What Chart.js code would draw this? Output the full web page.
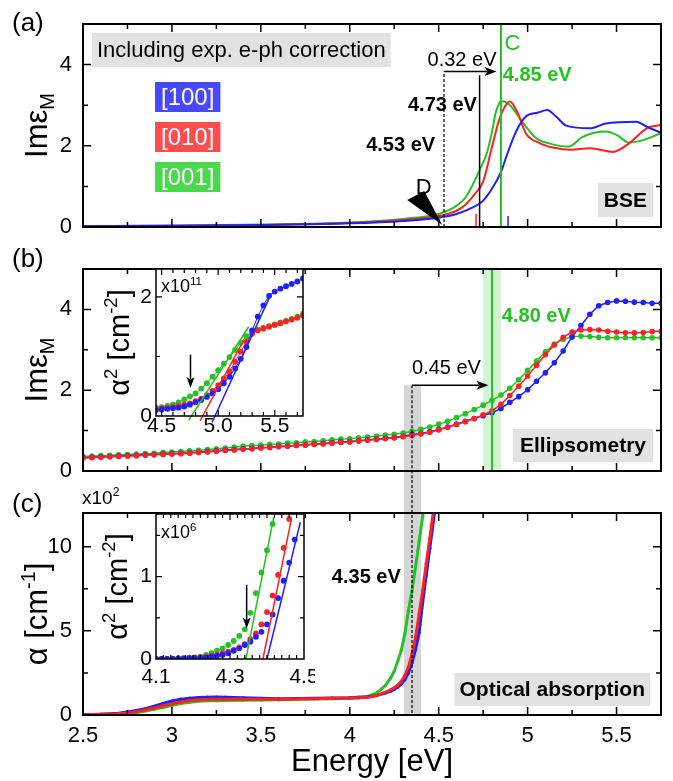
<!DOCTYPE html>
<html>
<head>
<meta charset="utf-8">
<title>Im eps and absorption edge</title>
<script src="https://cdn.jsdelivr.net/npm/chart.js@4.4.1/dist/chart.umd.min.js"></script>
<style>
  body { margin: 0; background: #fff; }
  #fig { position: relative; width: 673px; height: 781px; }
  #fig canvas { position: absolute; }
</style>
</head>
<body>
<div id="fig">
  <canvas id="panelA" width="673" height="240" style="left:0;top:0"></canvas>
  <canvas id="panelB" width="673" height="240" style="left:0;top:240px"></canvas>
  <canvas id="panelC" width="673" height="301" style="left:0;top:480px"></canvas>
  <canvas id="insetB" width="215" height="180" style="left:100px;top:262px"></canvas>
  <canvas id="insetC" width="215" height="185" style="left:100px;top:505px"></canvas>
</div>
<script>
const FONT = "'Liberation Sans', Arial, sans-serif";
const BLUE = '#2020ff', RED = '#ff2020', GREEN = '#22c322';

// (a) BSE Im eps_M
const bseBlueE = [2.5, 3.0, 3.5, 4.0, 4.3, 4.5, 4.6, 4.7, 4.75, 4.8, 4.85, 4.88, 4.935, 4.99, 5.06, 5.11, 5.16, 5.22, 5.35, 5.44, 5.61, 5.67, 5.75];
const bseBlue  = [0.02, 0.03, 0.05, 0.09, 0.15, 0.23, 0.32, 0.5, 0.65, 0.95, 1.35, 1.73, 2.35, 2.72, 2.82, 2.88, 2.72, 2.49, 2.43, 2.55, 2.59, 2.47, 2.32];
const bseRedE  = [2.5, 3.0, 3.5, 4.0, 4.3, 4.5, 4.6, 4.65, 4.7, 4.75, 4.8, 4.84, 4.87, 4.9, 4.945, 4.99, 5.07, 5.15, 5.24, 5.35, 5.48, 5.57, 5.67, 5.75];
const bseRed   = [0.02, 0.03, 0.05, 0.1, 0.17, 0.27, 0.4, 0.55, 0.8, 1.12, 1.98, 2.64, 2.95, 3.09, 2.8, 2.31, 2.06, 1.95, 1.9, 1.94, 1.85, 2.06, 2.43, 2.51];
const bseGreenE = [2.5, 3.0, 3.5, 4.0, 4.3, 4.5, 4.6, 4.65, 4.69, 4.73, 4.77, 4.8, 4.82, 4.85, 4.88, 4.91, 4.97, 5.05, 5.12, 5.23, 5.31, 5.44, 5.5, 5.57, 5.65, 5.75];
const bseGreen  = [0.02, 0.03, 0.06, 0.11, 0.2, 0.32, 0.52, 0.72, 1.03, 1.4, 1.81, 2.35, 2.8, 3.1, 3.07, 2.96, 2.59, 2.18, 2.06, 1.98, 2.22, 2.35, 2.27, 2.08, 2.14, 2.31];
const bseMarks = [4.53, 4.73, 4.85];   // onset D, BSE onset, exciton C
const bseBars = [4.71, 4.89];          // red / blue exciton bars
const legendText = ['[100]', '[010]', '[001]'];
const legendFill = ['#4848ff', '#ff4c4c', '#4cd84c'];

// (b) ellipsometry Im eps_M
const ellE = [2.50, 2.55, 2.60, 2.65, 2.70, 2.75, 2.80, 2.85, 2.90, 2.95,
  3.00, 3.05, 3.10, 3.15, 3.20, 3.25, 3.30, 3.35, 3.40, 3.45,
  3.50, 3.55, 3.60, 3.65, 3.70, 3.75, 3.80, 3.85, 3.90, 3.95,
  4.00, 4.05, 4.10, 4.15, 4.20, 4.25, 4.30, 4.35, 4.40, 4.45,
  4.50, 4.55, 4.60, 4.65, 4.70, 4.75, 4.80, 4.85, 4.90, 4.95,
  5.00, 5.05, 5.10, 5.15, 5.20, 5.25, 5.30, 5.35, 5.40, 5.45,
  5.50, 5.55, 5.60, 5.65, 5.70, 5.75];
const ellRed = [0.32, 0.33, 0.34, 0.35, 0.36, 0.37, 0.38, 0.39, 0.40, 0.41,
  0.42, 0.43, 0.44, 0.46, 0.47, 0.49, 0.51, 0.52, 0.54, 0.55,
  0.57, 0.58, 0.60, 0.61, 0.63, 0.64, 0.66, 0.67, 0.69, 0.71,
  0.72, 0.74, 0.76, 0.78, 0.80, 0.82, 0.85, 0.88, 0.92, 0.96,
  1.02, 1.08, 1.15, 1.22, 1.30, 1.39, 1.49, 1.65, 1.87, 2.10,
  2.35, 2.62, 2.88, 3.12, 3.31, 3.44, 3.49, 3.50, 3.49, 3.46,
  3.44, 3.42, 3.42, 3.43, 3.45, 3.46];
const ellBlue = [0.33, 0.34, 0.35, 0.36, 0.37, 0.38, 0.39, 0.40, 0.41, 0.42,
  0.43, 0.44, 0.45, 0.47, 0.48, 0.50, 0.52, 0.53, 0.55, 0.56,
  0.58, 0.59, 0.61, 0.62, 0.64, 0.65, 0.67, 0.68, 0.70, 0.72,
  0.73, 0.75, 0.77, 0.79, 0.81, 0.83, 0.86, 0.90, 0.93, 0.97,
  1.03, 1.09, 1.16, 1.23, 1.30, 1.37, 1.44, 1.55, 1.70, 1.84,
  2.01, 2.22, 2.43, 2.68, 2.97, 3.32, 3.60, 3.88, 4.09, 4.17,
  4.21, 4.20, 4.18, 4.17, 4.15, 4.15];
const ellGreen = [0.36, 0.37, 0.38, 0.39, 0.40, 0.41, 0.42, 0.43, 0.44, 0.46,
  0.47, 0.48, 0.50, 0.51, 0.53, 0.55, 0.57, 0.59, 0.61, 0.63,
  0.64, 0.66, 0.67, 0.69, 0.70, 0.72, 0.73, 0.75, 0.77, 0.79,
  0.80, 0.82, 0.84, 0.86, 0.89, 0.91, 0.94, 0.98, 1.03, 1.09,
  1.16, 1.23, 1.32, 1.42, 1.52, 1.63, 1.75, 1.88, 2.05, 2.26,
  2.49, 2.72, 2.95, 3.14, 3.26, 3.32, 3.34, 3.33, 3.31, 3.30,
  3.30, 3.30, 3.30, 3.30, 3.30, 3.30];
const ellMarks = [4.35, 4.80];
// (b) inset: alpha^2 (x1e11 cm^-2)
const ellInsE = [4.45, 4.50, 4.55, 4.60, 4.65, 4.70, 4.75, 4.80, 4.85, 4.90, 4.95, 5.00, 5.05, 5.10,
  5.15, 5.20, 5.25, 5.30, 5.35, 5.40, 5.45, 5.50, 5.55, 5.60, 5.65, 5.70, 5.75];
const ellInsGreen = [0.14, 0.15, 0.17, 0.19, 0.23, 0.28, 0.33, 0.38, 0.46, 0.55, 0.66, 0.77, 0.88, 0.99,
  1.11, 1.23, 1.34, 1.42, 1.45, 1.48, 1.51, 1.54, 1.57, 1.60, 1.63, 1.67, 1.72];
const ellInsRed = [0.12, 0.13, 0.14, 0.15, 0.17, 0.19, 0.21, 0.25, 0.29, 0.35, 0.42, 0.52, 0.63, 0.75,
  0.91, 1.08, 1.25, 1.38, 1.44, 1.47, 1.50, 1.53, 1.56, 1.59, 1.62, 1.65, 1.69];
const ellInsBlue = [0.10, 0.11, 0.12, 0.13, 0.14, 0.16, 0.19, 0.23, 0.27, 0.32, 0.38, 0.45, 0.55, 0.66,
  0.80, 0.96, 1.16, 1.44, 1.67, 1.86, 2.02, 2.09, 2.14, 2.18, 2.22, 2.26, 2.31];
const ellFitGreen = [[4.74, -0.07], [5.27, 1.50]];
const ellFitRed = [[4.84, -0.08], [5.225, 1.27]];
const ellFitBlue = [[4.945, -0.11], [5.47, 2.06]];

// (c) optical absorption alpha (x1e2 cm^-1)
const absE = [2.50, 2.60, 2.70, 2.75, 2.80, 2.85, 2.90, 2.95, 3.00, 3.05,
  3.10, 3.15, 3.20, 3.25, 3.30, 3.40, 3.50, 3.60, 3.70, 3.80,
  3.90, 4.00, 4.05, 4.10, 4.15, 4.20, 4.23, 4.25, 4.27, 4.29,
  4.31, 4.33, 4.35, 4.37, 4.39, 4.41, 4.43, 4.45, 4.47, 4.49];
const absBlue = [0.03, 0.05, 0.10, 0.18, 0.27, 0.37, 0.52, 0.69, 0.83, 0.94,
  1.00, 1.04, 1.06, 1.07, 1.06, 1.02, 0.99, 0.97, 0.98, 0.99,
  1.01, 1.03, 1.06, 1.09, 1.15, 1.30, 1.42, 1.52, 1.66, 1.85,
  2.10, 2.50, 3.10, 3.90, 4.90, 6.70, 8.30, 9.90, 11.5, 13.1];
const absRed = [0.02, 0.04, 0.07, 0.12, 0.20, 0.30, 0.42, 0.55, 0.66, 0.77,
  0.85, 0.90, 0.92, 0.93, 0.93, 0.93, 0.93, 0.93, 0.95, 0.97,
  0.99, 1.01, 1.03, 1.06, 1.15, 1.35, 1.50, 1.62, 1.78, 2.00,
  2.35, 2.86, 3.60, 4.60, 6.00, 7.40, 9.00, 10.5, 12.1, 13.7];
const absGreen = [0.02, 0.03, 0.05, 0.09, 0.15, 0.24, 0.34, 0.45, 0.57, 0.68,
  0.76, 0.81, 0.84, 0.85, 0.86, 0.88, 0.89, 0.90, 0.93, 0.95,
  0.97, 0.99, 1.03, 1.10, 1.30, 1.75, 2.20, 2.60, 3.20, 3.85,
  4.84, 6.20, 7.40, 8.80, 10.3, 11.8, 13.4, null, null, null];
const absMark = 4.35;
// (c) inset: alpha^2 (x1e6 cm^-2)
const absInsE = [4.100, 4.115, 4.130, 4.145, 4.160, 4.175, 4.190, 4.205, 4.220, 4.235, 4.250, 4.265, 4.280, 4.295,
  4.310, 4.325, 4.340, 4.355, 4.370, 4.385, 4.400, 4.415, 4.430, 4.445, 4.460, 4.475, 4.490];
const absInsGreen = [0, 0, 0, 0.005, 0.01, 0.01, 0.015, 0.02, 0.03, 0.05, 0.07, 0.10, 0.13, 0.17,
  0.22, 0.28, 0.36, 0.56, 0.80, 1.05, 1.32, 1.64, null, null, null, null, null];
const absInsRed = [0, 0, 0, 0, 0.005, 0.01, 0.01, 0.015, 0.02, 0.03, 0.04, 0.05, 0.07, 0.09,
  0.11, 0.14, 0.18, 0.24, 0.31, 0.42, 0.57, 0.77, 1.02, 1.35, 1.70, null, null];
const absInsBlue = [0, 0, 0, 0, 0.005, 0.005, 0.01, 0.01, 0.015, 0.02, 0.03, 0.04, 0.05, 0.07,
  0.10, 0.13, 0.17, 0.21, 0.27, 0.33, 0.42, 0.54, 0.74, 0.95, 1.17, 1.45, null];
const absFitGreen = [[4.343, 0], [4.418, 1.72]];
const absFitRed = [[4.389, 0], [4.466, 1.70]];
const absFitBlue = [[4.400, 0], [4.490, 1.66]];

Chart.defaults.font.family = FONT;
Chart.defaults.color = '#000';

const isMajor = (v, step, base) => {
  const r = (v - (base || 0)) / step;
  return Math.abs(r - Math.round(r)) < 1e-6;
};
// tick values on multiples of step (offset by base) inside [min, max]
function stepTicks(min, max, step, base) {
  base = base || 0;
  const out = [];
  for (let k = Math.ceil((min - base) / step - 1e-6); base + k * step <= max + 1e-9; k++) {
    out.push({value: Math.round((base + k * step) * 1e6) / 1e6});
  }
  return out;
}
const pts = (xs, ys) => xs.map((x, i) => ({x, y: ys[i]}));

function curve(xs, ys, color, o) {
  return Object.assign({
    data: pts(xs, ys), borderColor: color, backgroundColor: color,
    borderWidth: 2, pointRadius: 0, pointBorderWidth: 0, tension: 0
  }, o || {});
}
function fit(p, color) {
  return {data: p.map(([x, y]) => ({x, y})), borderColor: color, borderWidth: 1.5, pointRadius: 0, clip: false};
}

// ---- drawing helpers
function seg(ctx, x0, y0, x1, y1, color, w, dash) {
  ctx.save();
  ctx.strokeStyle = color; ctx.lineWidth = w; ctx.setLineDash(dash || []);
  ctx.beginPath(); ctx.moveTo(x0, y0); ctx.lineTo(x1, y1); ctx.stroke();
  ctx.restore();
}
function arrow(ctx, x0, y0, x1, y1, w, hl, hw) {
  w = w || 1.5; hl = hl || 12; hw = hw || 4.5;
  const ang = Math.atan2(y1 - y0, x1 - x0), cs = Math.cos(ang), sn = Math.sin(ang);
  const nx = x1 - hl * 0.75 * cs, ny = y1 - hl * 0.75 * sn;
  seg(ctx, x0, y0, nx, ny, '#000', w);
  ctx.save();
  ctx.fillStyle = '#000';
  ctx.beginPath();
  ctx.moveTo(x1, y1);
  ctx.lineTo(x1 - hl * cs - hw * sn, y1 - hl * sn + hw * cs);
  ctx.lineTo(nx, ny);
  ctx.lineTo(x1 - hl * cs + hw * sn, y1 - hl * sn - hw * cs);
  ctx.closePath(); ctx.fill();
  ctx.restore();
}
function txt(ctx, s, x, y, size, o) {
  o = o || {};
  ctx.save();
  ctx.font = (o.bold ? 'bold ' : '') + size + 'px ' + FONT;
  ctx.fillStyle = o.color || '#000';
  ctx.textAlign = o.align || 'left';
  ctx.textBaseline = o.base || 'middle';
  ctx.fillText(s, x, y);
  ctx.restore();
}
// parts: [text, 'sup' | 'sub' | undefined]
function rich(ctx, parts, x, y, size, align) {
  ctx.save();
  const segs = parts.map(([s, k]) => {
    const fs = k ? size * 0.64 : size;
    ctx.font = fs + 'px ' + FONT;
    return {s, k, fs, w: ctx.measureText(s).width};
  });
  const total = segs.reduce((t, p) => t + p.w, 0);
  let cx = align === 'center' ? x - total / 2 : align === 'right' ? x - total : x;
  ctx.fillStyle = '#000'; ctx.textAlign = 'left'; ctx.textBaseline = 'alphabetic';
  segs.forEach(p => {
    ctx.font = p.fs + 'px ' + FONT;
    const dy = p.k === 'sup' ? -size * 0.4 : p.k === 'sub' ? size * 0.22 : 0;
    ctx.fillText(p.s, cx, y + dy);
    cx += p.w;
  });
  ctx.restore();
}
function yTitle(ctx, parts, bx, cy, size) {
  ctx.save();
  ctx.translate(bx, cy); ctx.rotate(-Math.PI / 2);
  rich(ctx, parts, 0, 0, size, 'center');
  ctx.restore();
}
function tag(ctx, s, o) {
  ctx.save();
  ctx.font = (o.bold ? 'bold ' : '') + o.size + 'px ' + FONT;
  const w = ctx.measureText(s).width + 2 * o.pad;
  const x = o.left !== undefined ? o.left : o.right - w;
  const y = o.top !== undefined ? o.top : o.bottom - o.h;
  ctx.fillStyle = o.fill || '#e2e2e2';
  ctx.fillRect(x, y, w, o.h);
  ctx.fillStyle = o.color || '#000';
  ctx.textAlign = 'center'; ctx.textBaseline = 'middle';
  ctx.fillText(s, x + w / 2, y + o.h / 2 + 1);
  ctx.restore();
}

// inward ticks on all four sides + frame
const frameTicks = {
  id: 'frameTicks',
  afterDraw(c, args, o) {
    const {ctx, chartArea: a} = c, sx = c.scales.x, sy = c.scales.y;
    ctx.save();
    ctx.strokeStyle = '#000'; ctx.lineWidth = o.lw;
    ctx.beginPath();
    sx.ticks.forEach(t => {
      const p = sx.getPixelForValue(t.value);
      if (p <= a.left + 1 || p >= a.right - 1) return;
      const L = isMajor(t.value, o.xMaj[0], o.xMaj[1]) ? o.big : o.small;
      ctx.moveTo(p, a.bottom); ctx.lineTo(p, a.bottom - L);
      ctx.moveTo(p, a.top); ctx.lineTo(p, a.top + L);
    });
    sy.ticks.forEach(t => {
      const p = sy.getPixelForValue(t.value);
      if (p <= a.top + 1 || p >= a.bottom - 1) return;
      const L = isMajor(t.value, o.yMaj[0], o.yMaj[1]) ? o.big : o.small;
      ctx.moveTo(a.left, p); ctx.lineTo(a.left + L, p);
      ctx.moveTo(a.right, p); ctx.lineTo(a.right - L, p);
    });
    ctx.stroke();
    ctx.lineWidth = o.fw;
    ctx.strokeRect(a.left, a.top, a.right - a.left, a.bottom - a.top);
    ctx.restore();
  }
};
const whiteArea = {
  id: 'whiteArea',
  beforeDraw(c) {
    const a = c.chartArea;
    c.ctx.save(); c.ctx.fillStyle = '#fff';
    c.ctx.fillRect(a.left, a.top, a.right - a.left, a.bottom - a.top);
    c.ctx.restore();
  }
};

// x / y: [min, max, step, majorStep, majorBase]
function opts(o) {
  const tickFont = {size: o.tickSize, lineHeight: 1, family: FONT};
  const noPad = s => { s.paddingLeft = s.paddingRight = s.paddingTop = s.paddingBottom = 0; };
  return {
    responsive: false, animation: false, events: [],
    layout: {padding: o.pad},
    plugins: {
      legend: {display: false}, tooltip: {enabled: false},
      frameTicks: Object.assign({xMaj: [o.x[3], o.x[4]], yMaj: [o.y[3], o.y[4]]}, o.frame)
    },
    scales: {
      x: {
        type: 'linear', min: o.x[0], max: o.x[1],
        border: {display: false}, grid: {display: false, drawTicks: false},
        ticks: {
          autoSkip: false, maxRotation: 0, minRotation: 0,
          display: o.xLabels !== false, padding: o.xPad, font: tickFont, color: '#000',
          callback: v => isMajor(v, o.x[3], o.x[4]) ? o.xFmt(v) : ''
        },
        afterBuildTicks: s => { s.ticks = stepTicks(o.x[0], o.x[1], o.x[2], o.x[4]); },
        title: o.xTitle
          ? {display: true, text: o.xTitle, color: '#000', padding: 0, font: {size: 31, lineHeight: 1.2, family: FONT}}
          : {display: false},
        afterFit: s => { s.height = o.xH; noPad(s); }
      },
      y: {
        type: 'linear', min: o.y[0], max: o.y[1],
        border: {display: false}, grid: {display: false, drawTicks: false},
        ticks: {
          autoSkip: false, padding: o.yPad, font: tickFont, color: '#000',
          callback: v => isMajor(v, o.y[3], o.y[4]) ? String(v) : ''
        },
        afterBuildTicks: s => { s.ticks = stepTicks(o.y[0], o.y[1], o.y[2], o.y[4]); },
        afterFit: s => { s.width = o.yW; noPad(s); }
      }
    }
  };
}
const mainFrame = {lw: 1.5, fw: 2, big: 8, small: 5};
const insetFrame = {lw: 1.2, fw: 1.5, big: 6, small: 4};

function axes(c) {
  return [v => c.scales.x.getPixelForValue(v), v => c.scales.y.getPixelForValue(v)];
}

// ---------- (a)
const annA = {
  id: 'annA',
  afterDatasetsDraw(c) {
    const {ctx, chartArea: a} = c, [X, Y] = axes(c);
    const [eD, eOn, eC] = bseMarks;
    seg(ctx, X(eC), a.top, X(eC), a.bottom, GREEN, 2);
    seg(ctx, X(eOn), Y(0), X(eOn), Y(3.74), '#000', 1.5);
    seg(ctx, X(eD), Y(0), X(eD), Y(3.83), '#000', 1.2, [3, 2]);
    arrow(ctx, X(eD), Y(3.83), X(4.825), Y(3.83));
    seg(ctx, X(bseBars[0]), Y(0), X(bseBars[0]), Y(0.32), RED, 1.5);
    seg(ctx, X(bseBars[1]), Y(0), X(bseBars[1]), Y(0.27), BLUE, 1.5);
    txt(ctx, '0.32 eV', X(4.825), Y(4.11), 20, {align: 'right'});
    txt(ctx, '4.73 eV', X(4.715), Y(3.0), 20, {align: 'right', bold: true});
    txt(ctx, '4.53 eV', X(4.48), Y(2.0), 20, {align: 'right', bold: true});
    txt(ctx, 'C', X(4.87), Y(4.52), 22, {color: GREEN});
    txt(ctx, '4.85 eV', X(4.86), Y(3.74), 20, {bold: true, color: GREEN});
    const tx = X(4.52), ty = Y(0.05);
    ctx.save();
    ctx.fillStyle = '#000';
    ctx.beginPath(); ctx.moveTo(tx, ty); ctx.lineTo(tx - 35, ty - 25); ctx.lineTo(tx - 18, ty - 34); ctx.closePath();
    ctx.fill();
    ctx.restore();
    txt(ctx, 'D', X(4.415), Y(0.95), 22, {align: 'center'});
    tag(ctx, 'BSE', {right: a.right - 8, bottom: a.bottom - 10, h: 34, pad: 6, size: 21, bold: true});
    tag(ctx, 'Including exp. e-ph correction', {left: a.left + 9, top: a.top + 9, h: 34, pad: 5, size: 22});
    legendText.forEach((s, i) => tag(ctx, s, {
      left: a.left + 72, top: a.top + 58 + 40 * i, h: 30, pad: 6, size: 24, fill: legendFill[i], color: '#fff'
    }));
    yTitle(ctx, [['Im'], ['ε'], ['M', 'sub']], 47, (a.top + a.bottom) / 2, 31);
    txt(ctx, '(a)', 12, 24, 26);
  }
};
new Chart(document.getElementById('panelA'), {
  type: 'line',
  data: {datasets: [
    curve(bseBlueE, bseBlue, BLUE, {cubicInterpolationMode: 'monotone'}),
    curve(bseRedE, bseRed, RED, {cubicInterpolationMode: 'monotone'}),
    curve(bseGreenE, bseGreen, GREEN, {cubicInterpolationMode: 'monotone'})
  ]},
  options: opts({
    pad: {top: 24, right: 12, left: 0, bottom: 0},
    x: [2.5, 5.75, 0.25, 0.5, 0], xLabels: false, xH: 13, xPad: 10, xFmt: v => String(v),
    y: [0, 5, 1, 2, 0], yW: 83, yPad: 11, tickSize: 22, frame: mainFrame
  }),
  plugins: [frameTicks, annA]
});

// ---------- (b)
const annB = {
  id: 'annB',
  beforeDatasetsDraw(c) {
    const {ctx, chartArea: a} = c, [X, Y] = axes(c);
    ctx.save();
    ctx.fillStyle = '#d5d5d5';
    ctx.fillRect(X(4.305), Y(2.12), X(4.40) - X(4.305), c.height - Y(2.12));
    ctx.fillStyle = 'rgba(60, 200, 60, 0.22)';
    ctx.fillRect(X(4.75), a.top, X(4.85) - X(4.75), a.bottom - a.top);
    ctx.restore();
  },
  afterDatasetsDraw(c) {
    const {ctx, chartArea: a} = c, [X, Y] = axes(c);
    const [eAbs, eEll] = ellMarks;
    seg(ctx, X(eEll), a.top, X(eEll), a.bottom, GREEN, 2);
    seg(ctx, X(eAbs), Y(2.12), X(eAbs), c.height, '#000', 1.2, [3, 2]);
    arrow(ctx, X(eAbs), Y(2.12), X(4.78), Y(2.12));
    txt(ctx, '0.45 eV', X(4.35), Y(2.53), 20);
    txt(ctx, '4.80 eV', X(4.855), Y(3.83), 20, {bold: true, color: GREEN});
    tag(ctx, 'Ellipsometry', {right: a.right - 8, bottom: a.bottom - 9, h: 33, pad: 7, size: 21, bold: true});
    yTitle(ctx, [['Im'], ['ε'], ['M', 'sub']], 47, (a.top + a.bottom) / 2, 31);
    txt(ctx, '(b)', 12, 20, 26);
  }
};
const dotted = {borderWidth: 1.5, pointRadius: 2.8};
new Chart(document.getElementById('panelB'), {
  type: 'line',
  data: {datasets: [
    curve(ellE, ellRed, RED, dotted),
    curve(ellE, ellBlue, BLUE, dotted),
    curve(ellE, ellGreen, GREEN, dotted)
  ]},
  options: opts({
    pad: {top: 29, right: 12, left: 0, bottom: 0},
    x: [2.5, 5.75, 0.25, 0.5, 0], xLabels: false, xH: 9, xPad: 10, xFmt: v => String(v),
    y: [0, 5, 1, 2, 0], yW: 83, yPad: 11, tickSize: 22, frame: mainFrame
  }),
  plugins: [frameTicks, annB]
});

// ---------- (c)
const annC = {
  id: 'annC',
  beforeDatasetsDraw(c) {
    const {ctx, chartArea: a} = c, [X] = axes(c);
    ctx.save();
    ctx.fillStyle = '#d5d5d5';
    ctx.fillRect(X(4.305), 0, X(4.40) - X(4.305), a.bottom);
    ctx.restore();
  },
  afterDatasetsDraw(c) {
    const {ctx, chartArea: a} = c, [X, Y] = axes(c);
    seg(ctx, X(absMark), 0, X(absMark), a.bottom, '#000', 1.2, [3, 2]);
    txt(ctx, '4.35 eV', X(4.287), Y(8.16), 20, {align: 'right', bold: true});
    tag(ctx, 'Optical absorption', {right: a.right - 11, bottom: a.bottom - 9, h: 33, pad: 5, size: 21, bold: true});
    rich(ctx, [['x10'], ['2', 'sup']], a.left - 1, a.top - 9, 19);
    yTitle(ctx, [['α [cm'], ['-1', 'sup'], [']']], 47, (a.top + a.bottom) / 2, 31);
    txt(ctx, '(c)', 12, 25, 26);
  }
};
const thick = {borderWidth: 3, pointRadius: 1.6};
new Chart(document.getElementById('panelC'), {
  type: 'line',
  data: {datasets: [
    curve(absE, absRed, RED, thick),
    curve(absE, absBlue, BLUE, thick),
    curve(absE, absGreen, GREEN, thick)
  ]},
  options: opts({
    pad: {top: 33, right: 12, left: 0, bottom: 0},
    x: [2.5, 5.75, 0.25, 0.5, 0], xH: 66, xPad: 10, xFmt: v => String(v), xTitle: 'Energy [eV]',
    y: [0, 12, 2.5, 5, 0], yW: 83, yPad: 11, tickSize: 22, frame: mainFrame
  }),
  plugins: [frameTicks, annC]
});

// ---------- (b) inset
const annIB = {
  id: 'annIB',
  afterDatasetsDraw(c) {
    const {ctx, chartArea: a} = c, [X, Y] = axes(c);
    arrow(ctx, X(4.755), Y(1.03), X(4.755), Y(0.47), 1.5, 11, 4);
    rich(ctx, [['x10'], ['11', 'sup']], a.left + 5, a.top + 23, 18);
    yTitle(ctx, [['α'], ['2', 'sup'], [' [cm'], ['-2', 'sup'], [']']], a.left - 27, (a.top + a.bottom) / 2, 29);
  }
};
const insDots = {borderWidth: 1, pointRadius: 2.9};
new Chart(document.getElementById('insetB'), {
  type: 'line',
  data: {datasets: [
    fit(ellFitBlue, BLUE), fit(ellFitRed, RED), fit(ellFitGreen, GREEN),
    curve(ellInsE, ellInsBlue, BLUE, insDots),
    curve(ellInsE, ellInsRed, RED, insDots),
    curve(ellInsE, ellInsGreen, GREEN, insDots)
  ]},
  options: opts({
    pad: {top: 7, right: 12, left: 0, bottom: 0},
    x: [4.45, 5.75, 0.1, 0.5, 0], xH: 26, xPad: 0, xFmt: v => v.toFixed(1),
    y: [0, 2.47, 1, 2, 0], yW: 56, yPad: 4, tickSize: 21, frame: insetFrame
  }),
  plugins: [whiteArea, frameTicks, annIB]
});

// ---------- (c) inset
const annIC = {
  id: 'annIC',
  afterDatasetsDraw(c) {
    const {ctx, chartArea: a} = c, [X, Y] = axes(c);
    arrow(ctx, X(4.345), Y(0.90), X(4.345), Y(0.37), 1.5, 11, 4);
    rich(ctx, [['x10'], ['6', 'sup']], a.left + 5, a.top + 24, 18);
    yTitle(ctx, [['α'], ['2', 'sup'], [' [cm'], ['-2', 'sup'], [']']], a.left - 29, (a.top + a.bottom) / 2, 29);
  }
};
const insPts = {showLine: false, pointRadius: 2.9};
new Chart(document.getElementById('insetC'), {
  type: 'line',
  data: {datasets: [
    fit(absFitBlue, BLUE), fit(absFitRed, RED), fit(absFitGreen, GREEN),
    curve(absInsE, absInsBlue, BLUE, insPts),
    curve(absInsE, absInsRed, RED, insPts),
    curve(absInsE, absInsGreen, GREEN, insPts)
  ]},
  options: opts({
    pad: {top: 9, right: 11, left: 0, bottom: 0},
    x: [4.1, 4.5, 0.02, 0.2, 4.1], xH: 31, xPad: 8, xFmt: v => v.toFixed(1),
    y: [0, 1.76, 0.5, 1, 0], yW: 56, yPad: 4, tickSize: 21, frame: insetFrame
  }),
  plugins: [whiteArea, frameTicks, annIC]
});
</script>
</body>
</html>
